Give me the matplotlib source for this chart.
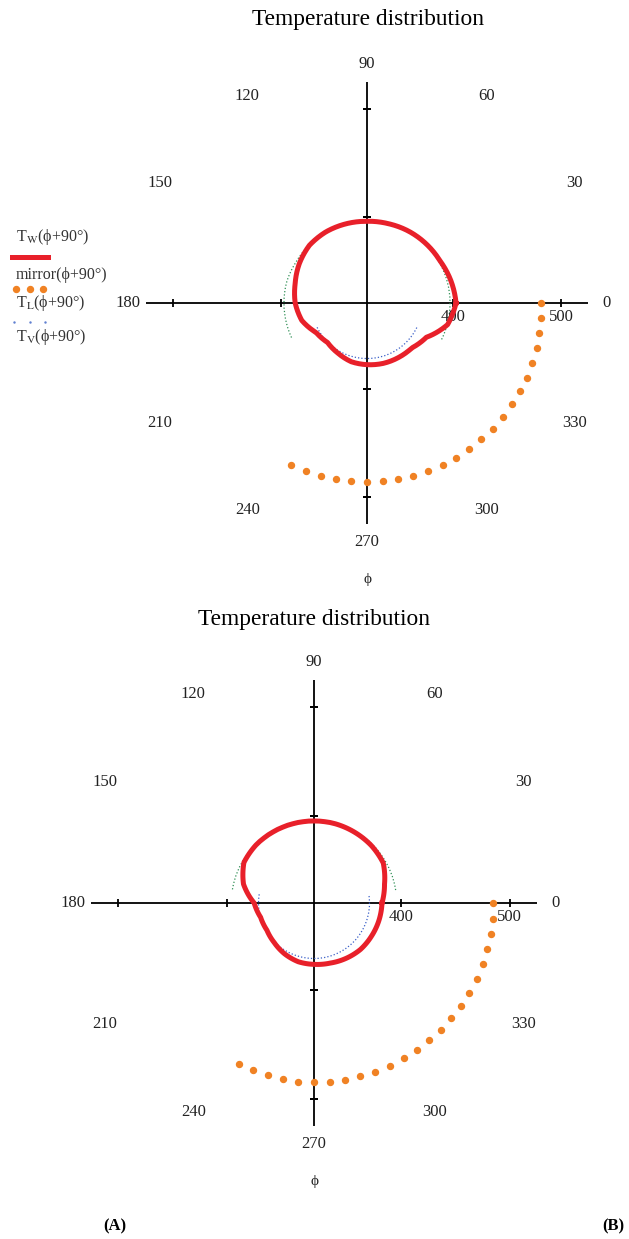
import numpy as np
import matplotlib.pyplot as plt
from matplotlib.lines import Line2D

plt.rcParams['font.family'] = ['Liberation Serif', 'DejaVu Serif']
plt.rcParams['mathtext.fontset'] = 'stix'

W, H = 629, 1239
R_MIN, R_MAX = 320, 525

# wall temperature T_W, read every 15 deg (plotted angle)
tw_deg = list(range(0, 361, 15))
tw_a = [402.6, 400.5, 398.2, 397.6, 397.0, 396.2, 395.8, 396.0, 396.2, 395.6, 392.6, 389.0, 386.6,
        382.6, 374.6, 371.8, 373.8, 376.4, 377.2, 378.0, 378.4, 378.9, 383.6, 397.4, 402.6]
tw_b = [382.5, 387.1, 393.5, 394.6, 395.0, 395.4, 395.4, 395.4, 395.4, 395.4, 394.4, 387.1, 375.0,
        370.8, 370.0, 371.6, 374.0, 375.9, 376.4, 377.2, 378.8, 380.4, 381.0, 381.8, 382.5]

# liquid side T_L
tl_deg_a = [-26, -15, 0, 15, 30, 45, 60, 75, 90, 105, 120, 135, 150, 165, 180, 195, 206]
tl_a = [397, 397, 397, 397, 397, 397, 397, 396, 396, 396, 396, 396, 396, 397, 397, 397, 397]
tl_deg_b = [9, 15, 30, 45, 60, 75, 90, 105, 120, 135, 150, 165, 171]
tl_b = [396, 396, 396, 396, 396, 396, 396, 396, 396, 396, 396, 396, 396]

# vapour side T_V
tv_deg_a = [206, 225, 240, 255, 270, 285, 300, 315, 334]
tv_a = [371.5, 371.5, 371.5, 371.5, 371.5, 371.5, 371.5, 371.5, 371.5]
tv_deg_b = [171, 180, 195, 210, 225, 240, 255, 270, 285, 300, 315, 330, 345, 360, 369]
tv_b = [371, 371, 371, 371, 371, 371, 371, 371, 371, 371, 371, 371, 371, 371, 371]

# mirror temperature, every 5 deg from 0 down to -115
mir_deg = list(range(0, -120, -5))
mir_a = [481, 482, 482, 483, 483, 484, 484, 484, 485, 485, 485, 485,
         486, 486, 486, 486, 486, 486, 486, 486, 486, 486, 486, 486]
mir_b = [485, 485, 485, 485, 485, 485, 485, 485, 485, 485, 485, 485,
         485, 485, 485, 485, 485, 485, 485, 485, 484, 484, 483, 483]

angle_labels = [0, 30, 60, 90, 120, 150, 180, 210, 240, 270, 300, 330]

fig = plt.figure(figsize=(W / 100, H / 100), dpi=100)


def curve(ax, deg, vals, **kw):
    # polar lines drawn as arcs between the read points
    line, = ax.plot(np.deg2rad(deg), vals, **kw)
    line.get_path()._interpolation_steps = 20
    return line


def panel(cx, cy, rad, tw, tl_deg, tl, tv_deg, tv, mir):
    ax = fig.add_axes([(cx - rad) / W, (H - cy - rad) / H, 2 * rad / W, 2 * rad / H],
                      projection='polar')
    ax.set_rlim(R_MIN, R_MAX)
    ax.grid(False)
    ax.spines['polar'].set_visible(False)
    ax.set_xticks([])
    ax.set_yticks([])
    ax.patch.set_visible(False)

    # cross axes
    for a in [0, 90, 180, 270]:
        ax.plot([np.deg2rad(a)] * 2, [R_MIN, R_MAX], color='black', lw=1.3, zorder=1)
    for a, m in [(0, '|'), (180, '|'), (90, '_'), (270, '_')]:
        ax.plot([np.deg2rad(a)] * 2, [400, 500], ls='none', marker=m, ms=6, mew=1.3,
                color='black', zorder=1)
    for r in [400, 500]:
        ax.annotate(str(r), xy=(0, r), xytext=(0, -10), textcoords='offset points',
                    ha='center', va='center', fontsize=12, color='#222222')
    for a in angle_labels:
        ax.text(np.deg2rad(a), 542, str(a), ha='center', va='center', fontsize=12,
                color='#222222', clip_on=False)

    curve(ax, tl_deg, tl, color='#2f8f55', lw=0.9, ls=':', zorder=2)
    curve(ax, tv_deg, tv, color='#3a5fc8', lw=0.9, ls=':', zorder=2)
    curve(ax, tw_deg, tw, color='#e8202a', lw=3.6, zorder=3, solid_joinstyle='round')
    ax.plot(np.deg2rad(mir_deg), mir, ls='none', marker='o', ms=4.3, color='#f08224',
            zorder=3)
    return ax


panel(367, 303, 221, tw_a, tl_deg_a, tl_a, tv_deg_a, tv_a, mir_a)
panel(314, 903, 223, tw_b, tl_deg_b, tl_b, tv_deg_b, tv_b, mir_b)

fig.text(368 / W, 1 - 19 / H, 'Temperature distribution', ha='center', va='center', fontsize=16.8)
fig.text(314 / W, 1 - 620 / H, 'Temperature distribution', ha='center', va='center', fontsize=16.8)
fig.text(368 / W, 1 - 580 / H, 'ϕ', ha='center', va='center', fontsize=11, color='#222222')
fig.text(315 / W, 1 - 1181 / H, 'ϕ', ha='center', va='center', fontsize=11, color='#222222')
fig.text(115 / W, 1 - 1226 / H, '(A)', ha='center', va='center', fontsize=12, fontweight='bold')
fig.text(613 / W, 1 - 1226 / H, '(B)', ha='center', va='center', fontsize=12, fontweight='bold')

# legend (panel A)
leg = [(237, r'T$_{\mathrm{W}}$(ϕ+90°)'), (275, 'mirror(ϕ+90°)'),
       (303, r'T$_{\mathrm{L}}$(ϕ+90°)'), (337, r'T$_{\mathrm{V}}$(ϕ+90°)')]
for y, s in leg:
    fig.text(16 / W, 1 - y / H, s, ha='left', va='center', fontsize=11.5, color='#333333')
fig.add_artist(Line2D([12 / W, 48 / W], [1 - 257 / H] * 2, color='#e8202a', lw=3.6,
                      transform=fig.transFigure))
fig.add_artist(Line2D([16 / W, 30 / W, 43 / W], [1 - 289 / H] * 3, ls='none', marker='o',
                      ms=4.3, color='#f08224', transform=fig.transFigure))
fig.add_artist(Line2D([14 / W, 30 / W, 45 / W], [1 - 322 / H] * 3, ls='none', marker='.',
                      ms=1.5, color='#6080d0', transform=fig.transFigure))

fig.savefig('out.png', dpi=100)
